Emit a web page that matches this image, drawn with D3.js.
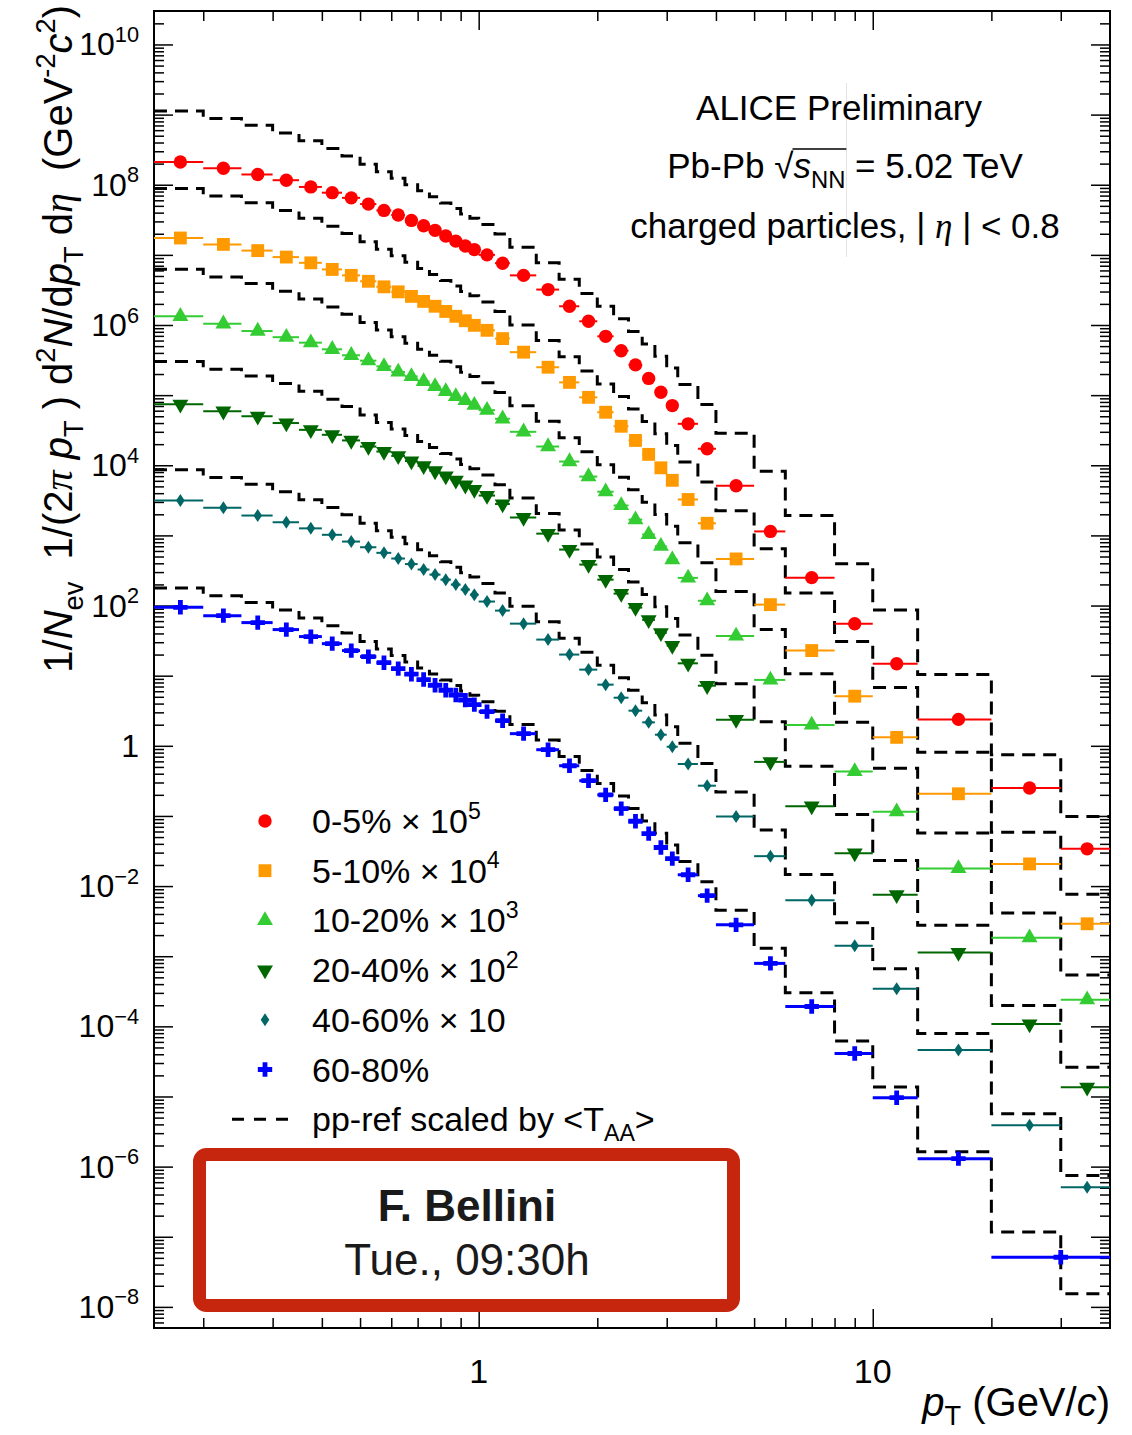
<!DOCTYPE html>
<html lang="en">
<head>
<meta charset="UTF-8" />
<title>Charged-particle pT spectra - Pb-Pb 5.02 TeV</title>
<script src="https://d3js.org/d3.v7.min.js"></script>
<style>
  body { margin: 0; background: #fff; }
  svg { display: block; background: #fff; font-family: "Liberation Sans", Arial, Helvetica, sans-serif; }
  text { white-space: pre; fill: #000; }
  .greek { font-family: "Liberation Serif", "DejaVu Serif", serif; font-style: italic; }
</style>
</head>
<body>
<svg width="1132" height="1435"></svg>
<script>
  // pT bin edges (GeV/c)
  const ptEdges = [0.15, 0.2, 0.25, 0.3, 0.35, 0.4, 0.45, 0.5, 0.55, 0.6, 0.65, 0.7, 0.75, 0.8, 0.85, 0.9, 0.95, 1.0,
                   1.1, 1.2, 1.4, 1.6, 1.8, 2.0, 2.2, 2.4, 2.6, 2.8, 3.0, 3.2, 3.6, 4.0,
                   5, 6, 8, 10, 13, 20, 30, 40];
  // 60-80% has the last two bins merged
  const ptEdgesPeriph = [0.15, 0.2, 0.25, 0.3, 0.35, 0.4, 0.45, 0.5, 0.55, 0.6, 0.65, 0.7, 0.75, 0.8, 0.85, 0.9, 0.95, 1.0,
                         1.1, 1.2, 1.4, 1.6, 1.8, 2.0, 2.2, 2.4, 2.6, 2.8, 3.0, 3.2, 3.6, 4.0,
                         5, 6, 8, 10, 13, 20, 40];

  const classes = ["0-5%", "5-10%", "10-20%", "20-40%", "40-60%", "60-80%"];
  const scaleExp = [5, 4, 3, 2, 1, 0];          // plotted as x 10^n
  const taa = [26.08, 20.42, 14.40, 6.96, 1.99, 0.41];   // <T_AA> (mb^-1)

  // 1/Nev 1/(2pi pT) d2N/dpTdeta, unscaled
  const y0005 = [2110, 1720, 1400, 1160, 930, 770, 650, 530, 430, 370, 310, 260, 224, 186, 157, 134, 119,
                 100, 76, 51, 32, 18.5, 11.3, 6.9, 4.3, 2.7, 1.73, 1.10, 0.71, 0.39, 0.172,
                 0.051, 0.0114, 0.0025, 5.5e-4, 1.48e-4, 2.38e-5, 2.5e-6, 3.4e-7];
  const y0510 = [1740, 1410, 1150, 930, 770, 620, 510, 420, 350, 297, 256, 217, 185, 156, 133, 115, 99,
                 84, 64, 41, 25, 15.2, 9.3, 5.7, 3.6, 2.26, 1.43, 0.92, 0.61, 0.325, 0.149,
                 0.0462, 0.0103, 0.00228, 5.1e-4, 1.32e-4, 2.07e-5, 2.07e-6, 2.9e-7];
  const y1020 = [1330, 1040, 820, 670, 560, 450, 370, 310, 257, 214, 185, 157, 133, 113, 96, 84, 72,
                 61, 46, 30, 18.5, 11.3, 6.9, 4.2, 2.67, 1.68, 1.03, 0.70, 0.452, 0.248, 0.117,
                 0.0369, 0.0087, 0.00198, 4.3e-4, 1.15e-4, 1.78e-5, 1.84e-6, 2.4e-7];
  const y2040 = [740, 590, 500, 400, 320, 272, 226, 185, 157, 136, 115, 98, 83, 70, 61, 52, 45,
                 37, 28, 18.0, 10.6, 6.28, 3.84, 2.34, 1.48, 0.935, 0.624, 0.407, 0.268, 0.150, 0.072,
                 0.0236, 0.0059, 0.00138, 2.95e-4, 7.5e-5, 1.13e-5, 1.08e-6, 1.35e-7];
  const y4060 = [314, 247, 192, 154, 126, 102, 81.7, 67.8, 56.4, 46.8, 39.0, 32.6, 27.6, 23.4, 19.9, 16.9, 14.3,
                 11.4, 8.47, 5.52, 3.27, 2.00, 1.22, 0.745, 0.485, 0.317, 0.216, 0.144, 0.097, 0.055, 0.027,
                 0.0098, 0.00267, 6.3e-4, 1.41e-4, 3.45e-5, 4.6e-6, 3.9e-7, 5.1e-8];
  const y6080 = [94.4, 71.8, 57.1, 45.4, 36.1, 28.6, 22.8, 18.7, 15.3, 12.6, 10.5, 8.8, 7.3, 6.2, 5.3, 4.48, 3.86,
                 3.07, 2.28, 1.49, 0.88, 0.52, 0.318, 0.200, 0.127, 0.084, 0.056, 0.0355, 0.0246, 0.0145, 0.0073,
                 0.0028, 7.9e-4, 1.92e-4, 4.1e-5, 9.6e-6, 1.30e-6, 5.1e-8];

  // pp reference cross section (mb GeV^-2 c^3), scaled by <T_AA> for each class
  const ppRef = [432.7, 337.1, 270.4, 210.1, 162.6, 125.8, 98.7, 75.1, 58.7, 47.4, 38.3, 31.4, 25.8, 21.1, 17.6, 14.7, 12.8,
                 10.4, 7.6, 4.91, 2.95, 1.72, 1.08, 0.707, 0.469, 0.311, 0.206, 0.138, 0.0937, 0.0545, 0.0282,
                 0.0110, 0.00316, 7.37e-4, 1.51e-4, 3.32e-5, 3.97e-6, 2.86e-7, 3.76e-8];

  const spectra = [y0005, y0510, y1020, y2040, y4060, y6080];
  const edgesOf = [ptEdges, ptEdges, ptEdges, ptEdges, ptEdges, ptEdgesPeriph];
  const colors = ["#ff0000", "#ff9900", "#33cc33", "#006600", "#006666", "#0000ff"];
  const markers = ["circle", "square", "triangle", "triangleDown", "diamond", "cross"];
  const barWidth = [2, 2, 2, 2, 2, 3];

  const svg = d3.select("svg");
  const X0 = 154, X1 = 1110, Y0 = 11, Y1 = 1328;

  const x = d3.scaleLog().domain([0.15, 40]).range([X0, X1]);
  const y = d3.scaleLog().domain([5e-9, 3e10]).range([Y1, Y0]);

  svg.append("defs").append("clipPath").attr("id", "plotclip")
     .append("rect").attr("x", X0).attr("y", Y0).attr("width", X1 - X0).attr("height", Y1 - Y0);

  // stray vertical line seen in the original picture
  svg.append("line").attr("x1", 846.5).attr("x2", 846.5).attr("y1", 83).attr("y2", 257)
     .attr("stroke", "#e4e4e4").attr("stroke-width", 1);

  // --- axes / ticks
  const yMajor = d3.range(-8, 11).map(e => +("1e" + e));
  const yMinor = [];
  d3.range(-9, 11).forEach(e => d3.range(2, 10).forEach(m => {
    const v = m * +("1e" + e);
    if (v > 5e-9 && v < 3e10) yMinor.push(v);
  }));
  const xMajor = [1, 10];
  const xMinor = [0.2, 0.3, 0.4, 0.5, 0.6, 0.7, 0.8, 0.9, 2, 3, 4, 5, 6, 7, 8, 9, 20, 30];

  function tickAxis(axis, tx, ty) {
    svg.append("g").attr("transform", `translate(${tx},${ty})`)
       .call(axis.tickFormat(""))
       .call(g => g.select(".domain").remove())
       .call(g => g.selectAll("line").attr("stroke", "#000").attr("stroke-width", 1.5));
  }
  tickAxis(d3.axisLeft(y).tickValues(yMajor).tickSize(-19), X0, 0);
  tickAxis(d3.axisLeft(y).tickValues(yMinor).tickSize(-10), X0, 0);
  tickAxis(d3.axisRight(y).tickValues(yMajor).tickSize(-19), X1, 0);
  tickAxis(d3.axisRight(y).tickValues(yMinor).tickSize(-10), X1, 0);
  tickAxis(d3.axisBottom(x).tickValues(xMajor).tickSize(-19), 0, Y1);
  tickAxis(d3.axisBottom(x).tickValues(xMinor).tickSize(-10), 0, Y1);
  tickAxis(d3.axisTop(x).tickValues(xMajor).tickSize(-19), 0, Y0);
  tickAxis(d3.axisTop(x).tickValues(xMinor).tickSize(-10), 0, Y0);

  svg.append("rect").attr("x", X0).attr("y", Y0).attr("width", X1 - X0).attr("height", Y1 - Y0)
     .attr("fill", "none").attr("stroke", "#000").attr("stroke-width", 2);

  // rich text helper: parts are {t, it, sub, sup, greek}
  function richText(sel, parts, size, subShift = 0.28) {
    let off = 0;
    parts.forEach(p => {
      const target = p.sup ? -size * 0.42 : p.sub ? size * subShift : 0;
      const ts = sel.append("tspan").attr("dy", target - off).text(p.t);
      off = target;
      if (p.sup || p.sub) ts.attr("font-size", size * 0.68);
      if (p.it) ts.attr("font-style", "italic");
      if (p.greek) ts.attr("class", "greek");
    });
    return sel;
  }

  // y tick labels (every second decade)
  d3.range(-8, 11, 2).forEach(e => {
    const t = svg.append("text").attr("x", X0 - 15).attr("y", y(+("1e" + e)) + 11)
                 .attr("text-anchor", "end").attr("font-size", 32);
    if (e === 0) t.text("1");
    else richText(t, [{t: "10"}, {t: e < 0 ? "\u2212" + (-e) : String(e), sup: true}], 32);
  });
  // x tick labels
  xMajor.forEach(v => {
    svg.append("text").attr("x", x(v)).attr("y", 1383).attr("text-anchor", "middle")
       .attr("font-size", 34).text(v);
  });

  // axis titles
  richText(svg.append("text").attr("x", X1).attr("y", 1416).attr("text-anchor", "end").attr("font-size", 40),
    [{t: "p", it: true}, {t: "T", sub: true}, {t: " (GeV/"}, {t: "c", it: true}, {t: ")"}], 40, 0.22);

  richText(svg.append("text").attr("transform", "translate(72,5) rotate(-90)").attr("text-anchor", "end").attr("font-size", 40),
    [{t: "1/"}, {t: "N", it: true}, {t: "ev", sub: true}, {t: "  1/(2"}, {t: "\u03c0", greek: true}, {t: " "},
     {t: "p", it: true}, {t: "T", sub: true}, {t: " ) d"}, {t: "2", sup: true}, {t: "N", it: true}, {t: "/d"},
     {t: "p", it: true}, {t: "T", sub: true}, {t: " d"}, {t: "\u03b7", greek: true}, {t: "  (GeV"},
     {t: "-2", sup: true}, {t: "c", it: true}, {t: "2", sup: true}, {t: ")"}], 40);

  // --- data
  const plot = svg.append("g").attr("clip-path", "url(#plotclip)");

  const series = classes.map((c, k) => {
    const f = Math.pow(10, scaleExp[k]);
    const e = edgesOf[k];
    return {
      k,
      points: spectra[k].map((v, i) => ({lo: e[i], hi: e[i + 1], pt: (e[i] + e[i + 1]) / 2, v: v * f})),
      ref: ppRef.map((v, i) => ({lo: ptEdges[i], hi: ptEdges[i + 1], v: v * taa[k] * f}))
    };
  });

  const step = d3.line().x(d => x(d[0])).y(d => y(d[1])).curve(d3.curveStepAfter);
  series.forEach(s => {
    const pts = s.ref.map(d => [d.lo, d.v]);
    pts.push([s.ref[s.ref.length - 1].hi, s.ref[s.ref.length - 1].v]);
    plot.append("path").attr("d", step(pts)).attr("fill", "none")
        .attr("stroke", "#000").attr("stroke-width", 3).attr("stroke-dasharray", "13,8");
  });

  function markerPath(type) {
    switch (type) {
      case "circle": return d3.symbol(d3.symbolCircle, 140)();
      case "square": return d3.symbol(d3.symbolSquare, 165)();
      case "triangle":
      case "triangleDown": return d3.symbol(d3.symbolTriangle, 110)();
      case "diamond": return "M0,-6.5L4.3,0L0,6.5L-4.3,0Z";
      case "cross": return d3.symbol(d3.symbolCross, 115)();
    }
  }

  series.forEach(s => {
    const g = plot.append("g");
    g.selectAll("line").data(s.points).join("line")
     .attr("x1", d => x(d.lo)).attr("x2", d => x(d.hi))
     .attr("y1", d => y(d.v)).attr("y2", d => y(d.v))
     .attr("stroke", colors[s.k]).attr("stroke-width", barWidth[s.k]);
    g.selectAll("path").data(s.points).join("path")
     .attr("d", markerPath(markers[s.k]))
     .attr("transform", d => `translate(${x(d.pt)},${y(d.v)})` + (markers[s.k] === "triangleDown" ? " rotate(180)" : ""))
     .attr("fill", colors[s.k]);
  });

  // --- header text
  const hx = 839;
  svg.append("text").attr("x", hx).attr("y", 120).attr("text-anchor", "middle").attr("font-size", 35)
     .text("ALICE Preliminary");
  const l2 = richText(svg.append("text").attr("x", hx + 6).attr("y", 178).attr("text-anchor", "middle").attr("font-size", 35),
    [{t: "Pb-Pb "}, {t: "\u221a"}, {t: "s", it: true}, {t: "NN", sub: true}, {t: " = 5.02 TeV"}], 35);
  {
    const node = l2.node();
    const a = node.getEndPositionOfChar(6), b = node.getEndPositionOfChar(9);
    svg.append("line").attr("x1", a.x - 1).attr("x2", b.x + 1).attr("y1", 149).attr("y2", 149)
       .attr("stroke", "#000").attr("stroke-width", 1.5);
  }
  richText(svg.append("text").attr("x", hx + 6).attr("y", 238).attr("text-anchor", "middle").attr("font-size", 35),
    [{t: "charged particles, | "}, {t: "\u03b7", greek: true}, {t: " | < 0.8"}], 35);

  // --- legend
  const legX = 265, legTextX = 312, legY0 = 821, legDY = 49.7;
  const legLabels = [
    [{t: "0-5% \u00d7 10"}, {t: "5", sup: true}],
    [{t: "5-10% \u00d7 10"}, {t: "4", sup: true}],
    [{t: "10-20% \u00d7 10"}, {t: "3", sup: true}],
    [{t: "20-40% \u00d7 10"}, {t: "2", sup: true}],
    [{t: "40-60% \u00d7 10"}],
    [{t: "60-80%"}]
  ];
  classes.forEach((c, k) => {
    const ly = legY0 + k * legDY;
    svg.append("path").attr("d", markerPath(markers[k]))
       .attr("transform", `translate(${legX},${ly})` + (markers[k] === "triangleDown" ? " rotate(180)" : ""))
       .attr("fill", colors[k]);
    richText(svg.append("text").attr("x", legTextX).attr("y", ly + 12).attr("font-size", 34), legLabels[k], 34);
  });
  const ppY = legY0 + 6 * legDY;
  svg.append("line").attr("x1", 232).attr("x2", 292).attr("y1", ppY).attr("y2", ppY)
     .attr("stroke", "#000").attr("stroke-width", 3).attr("stroke-dasharray", "12,10");
  richText(svg.append("text").attr("x", legTextX).attr("y", ppY + 12).attr("font-size", 34),
    [{t: "pp-ref scaled by <T"}, {t: "AA", sub: true}, {t: ">"}], 34);

  // --- talk box
  svg.append("rect").attr("x", 199.5).attr("y", 1154.5).attr("width", 534).attr("height", 151)
     .attr("rx", 7).attr("fill", "none").attr("stroke", "#c6260e").attr("stroke-width", 13);
  svg.append("text").attr("x", 467).attr("y", 1221).attr("text-anchor", "middle")
     .attr("font-size", 44).attr("font-weight", "bold").style("fill", "#1a1a1a").text("F. Bellini");
  svg.append("text").attr("x", 467).attr("y", 1275).attr("text-anchor", "middle")
     .attr("font-size", 44).style("fill", "#1a1a1a").text("Tue., 09:30h");
</script>
</body>
</html>
